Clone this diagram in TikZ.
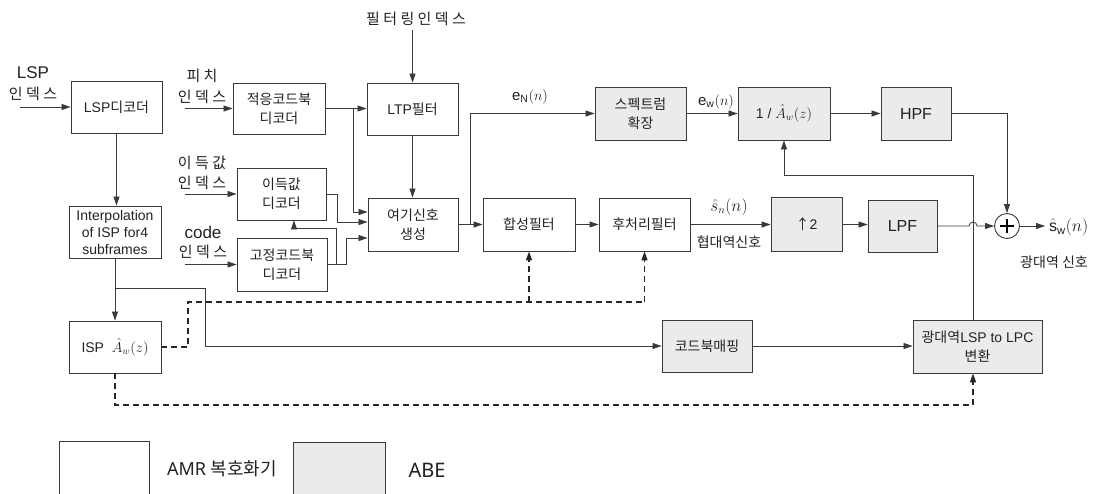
\documentclass[tikz,border=0pt]{standalone}
\usepackage{fontspec}
\setmainfont{Liberation Sans}
\newfontfamily\kr{Noto Sans CJK KR}
\newfontfamily\nsans{Noto Sans}
\usetikzlibrary{arrows.meta}
\definecolor{linec}{HTML}{3A3A3A}
\definecolor{abefill}{HTML}{EBEBEB}
\definecolor{txt}{HTML}{222222}
\tikzset{
  wbox/.style={draw=linec, line width=0.9pt, fill=white, text=txt, align=center, inner sep=1pt,
    font=\fontsize{14}{19}\selectfont},
  kbox/.style={wbox, font=\kr\fontsize{14}{19}\selectfont},
  gbox/.style={wbox, fill=abefill},
  gkbox/.style={kbox, fill=abefill},
  arr/.style={draw=linec, line width=0.8pt, -{Triangle[length=9pt,width=6pt]}},
  dtip/.style={-{Triangle[length=9pt,width=6pt]}},
  dsh/.style={draw=black!85, line width=1.5pt, dash pattern=on 6pt off 4pt},
  lbl/.style={text=txt, inner sep=0pt, font=\fontsize{16}{19}\selectfont},
  klbl/.style={lbl, font=\kr\fontsize{15}{19}\selectfont},
}
\begin{document}
\begin{tikzpicture}[x=1pt,y=-1pt]
\clip (0,0) rectangle (1097,493);
\fill[white] (0,0) rectangle (1097,493);

% ---------- decoder (white) boxes ----------
\node[wbox, minimum width=91, minimum height=52] (lspdec) at (116.5,107) {LSP{\kr 디코더}};
\node[wbox, minimum width=92, minimum height=52, font=\fontsize{14}{17}\selectfont] (interp) at (115,232) {Interpolation\\of ISP for4\\subframes};
\node[wbox, minimum width=92, minimum height=52] (isp) at (115,347) {ISP\; $\hat{A}_w(z)$};
\node[kbox, minimum width=92, minimum height=51] (adapt) at (279,108.5) {적응코드북\\디코더};
\node[kbox, minimum width=89, minimum height=52] (gain) at (281.5,194) {이득값\\디코더};
\node[kbox, minimum width=90, minimum height=53] (fixed) at (282,264.5) {고정코드북\\디코더};
\node[wbox, minimum width=91, minimum height=52] (ltp) at (412.5,109) {LTP{\kr 필터}};
\node[kbox, minimum width=90, minimum height=53] (exc) at (413,224.5) {여기신호\\생성};
\node[kbox, minimum width=92, minimum height=53] (synth) at (529,224.5) {합성필터};
\node[kbox, minimum width=91, minimum height=53] (post) at (644.5,224.5) {후처리필터};

% ---------- ABE (gray) boxes ----------
\node[gkbox, minimum width=91, minimum height=53] (spec) at (640.5,113.5) {스펙트럼\\확장};
\node[gbox, minimum width=92, minimum height=53] (inva) at (784,113.5) {1 / $\hat{A}_w(z)$};
\node[gbox, minimum width=70, minimum height=53, font=\fontsize{16}{19}\selectfont] (hpf) at (916,113.5) {HPF};
\node[gbox, minimum width=71, minimum height=54] (up2) at (806.5,224.5) {{\kr ↑}2};
\node[gbox, minimum width=69, minimum height=52, font=\fontsize{16}{19}\selectfont] (lpf) at (902.5,226) {LPF};
\node[gkbox, minimum width=90, minimum height=52] (cbmap) at (707,346) {코드북매핑};
\node[gbox, minimum width=129, minimum height=53] (wlsp) at (977.5,346.5) {{\kr 광대역}LSP to LPC\\{\kr 변환}};
\node[draw=linec, line width=0.9pt, fill=white, circle, minimum size=25, inner sep=0pt] (sum) at (1007,226) {};
\draw[line width=2.4pt, black] ([xshift=-7]sum.center) -- ([xshift=7]sum.center);
\draw[line width=2.4pt, black] ([yshift=-7]sum.center) -- ([yshift=7]sum.center);

% ---------- input labels ----------
\node[lbl, font=\fontsize{17}{19}\selectfont] (llsp) at (33,73) {LSP};
\node[klbl] (llspi) at (33,94) {인 덱 스};
\node[klbl] (lpit) at (202,76) {피 치};
\node[klbl] (lpiti) at (202,97) {인 덱 스};
\node[klbl] (lgain) at (202,163) {이 득 값};
\node[klbl] (lgaini) at (202,183) {인 덱 스};
\node[lbl, font=\fontsize{17}{19}\selectfont] (lcode) at (203,232) {code};
\node[klbl] (lcodei) at (203,252) {인 덱 스};
\node[klbl] (lfilt) at (416,19) {필 터 링 인 덱 스};

\coordinate (lspin) at (20,107);
\coordinate (pitin) at (185,108.5);
\coordinate (gainin) at (185,194);
\coordinate (codein) at (185,264.5);
\coordinate (filtin) at (412.5,30);

% ---------- connectors ----------
\draw[arr] (lspin) -- (lspdec.west);
\draw[arr] (lspdec.south) -- (lspdec.south |- interp.north);
\draw[arr] (interp.south) -- (isp.north);
\coordinate (br1) at (115,288);
\draw[arr] (br1) -- (205,288) -- (205,346) -- (cbmap.west);
\draw[arr] (cbmap.east) -- (cbmap.east -| wlsp.west);

\draw[arr] (pitin) -- (adapt.west);
\draw[arr] (adapt.east) -- (adapt.east -| ltp.west);
\draw[arr] (353,108.5) |- ([yshift=12.5]exc.west);
\draw[arr] (filtin) -- (ltp.north);
\draw[arr] (ltp.south) -- (ltp.south |- exc.north);
\draw[arr] (gainin) -- (gain.west);
\draw[arr] (gain.east) -- (337,194) |- ([yshift=2.5]exc.west);
\draw[arr] (codein) -- (fixed.west);
\draw[arr] (fixed.east) -- (346,264.5) |- ([yshift=-13.5]exc.west);
\draw[arr] (336,264.5) -- (336,228) -| ([xshift=12.5]gain.south);

\draw[arr] (exc.east) -- (synth.west);
\draw[arr] (470,224.5) |- (spec.west);
\draw[arr] (synth.east) -- (post.west);
\draw[arr] (post.east) -- (post.east -| up2.west);
\draw[arr] (spec.east) -- (inva.west);
\draw[arr] (inva.east) -- (hpf.west);
\draw[arr] (hpf.east) -| (sum.north);
\draw[arr] (up2.east) -- (up2.east -| lpf.west);
\draw[arr] (lpf.east) -- (969,226) arc[start angle=180, end angle=360, radius=4] -- (sum.west);
\coordinate (sout) at (1045,226);
\draw[arr] (sum.east) -- (sout);
\draw[arr] ([xshift=-4.5]wlsp.north) |- (784,175) -- (inva.south);

% dashed control lines
\coordinate (dA) at (529,302);
\coordinate (dB) at (644.5,302);
\draw[dsh] (isp.east) -- (188,347) -- (188,302) -- (dB);
\draw[dsh, dtip] (dB) -- (post.south);
\draw[dsh, dtip] (dA) -- (synth.south);
\draw[dsh, dtip] (isp.south) -- (115,405) -| ([xshift=-4.5]wlsp.south);

% signal labels
\node[lbl, font=\fontsize{15}{18}\selectfont] (leN) at (530,97) {$\mathrm{e}_{\mathrm{N}}(n)$};
\node[lbl, font=\fontsize{15}{18}\selectfont] (lew) at (716,102) {$\mathrm{e}_{\mathrm{w}}(n)$};
\node[lbl, font=\fontsize{16}{18}\selectfont] (lsn) at (729,207) {$\hat{s}_{n}(n)$};
\node[lbl, font=\kr\fontsize{14}{18}\selectfont] (lnb) at (729,242) {협대역신호};
\node[lbl, font=\fontsize{16}{18}\selectfont, anchor=west] (lsw) at (1049,227) {$\hat{\mathrm{s}}_{\mathrm{w}}(n)$};
\node[lbl, font=\kr\fontsize{14}{18}\selectfont] (lwb) at (1054,262) {광대역 신호};

% legend
\draw[draw=linec, line width=0.9pt, fill=white] (59,500) -- (59,441) -- (149,441) -- (149,500);
\draw[draw=linec, line width=0.9pt, fill=abefill] (293,500) -- (293,442) -- (385,442) -- (385,500);
\node[lbl, font=\nsans\fontsize{18}{20}\selectfont] (lamr) at (222,469) {AMR {\kr 복호화기}};
\node[lbl, font=\nsans\fontsize{20}{22}\selectfont] (labe) at (427,470) {ABE};
\end{tikzpicture}
\end{document}
